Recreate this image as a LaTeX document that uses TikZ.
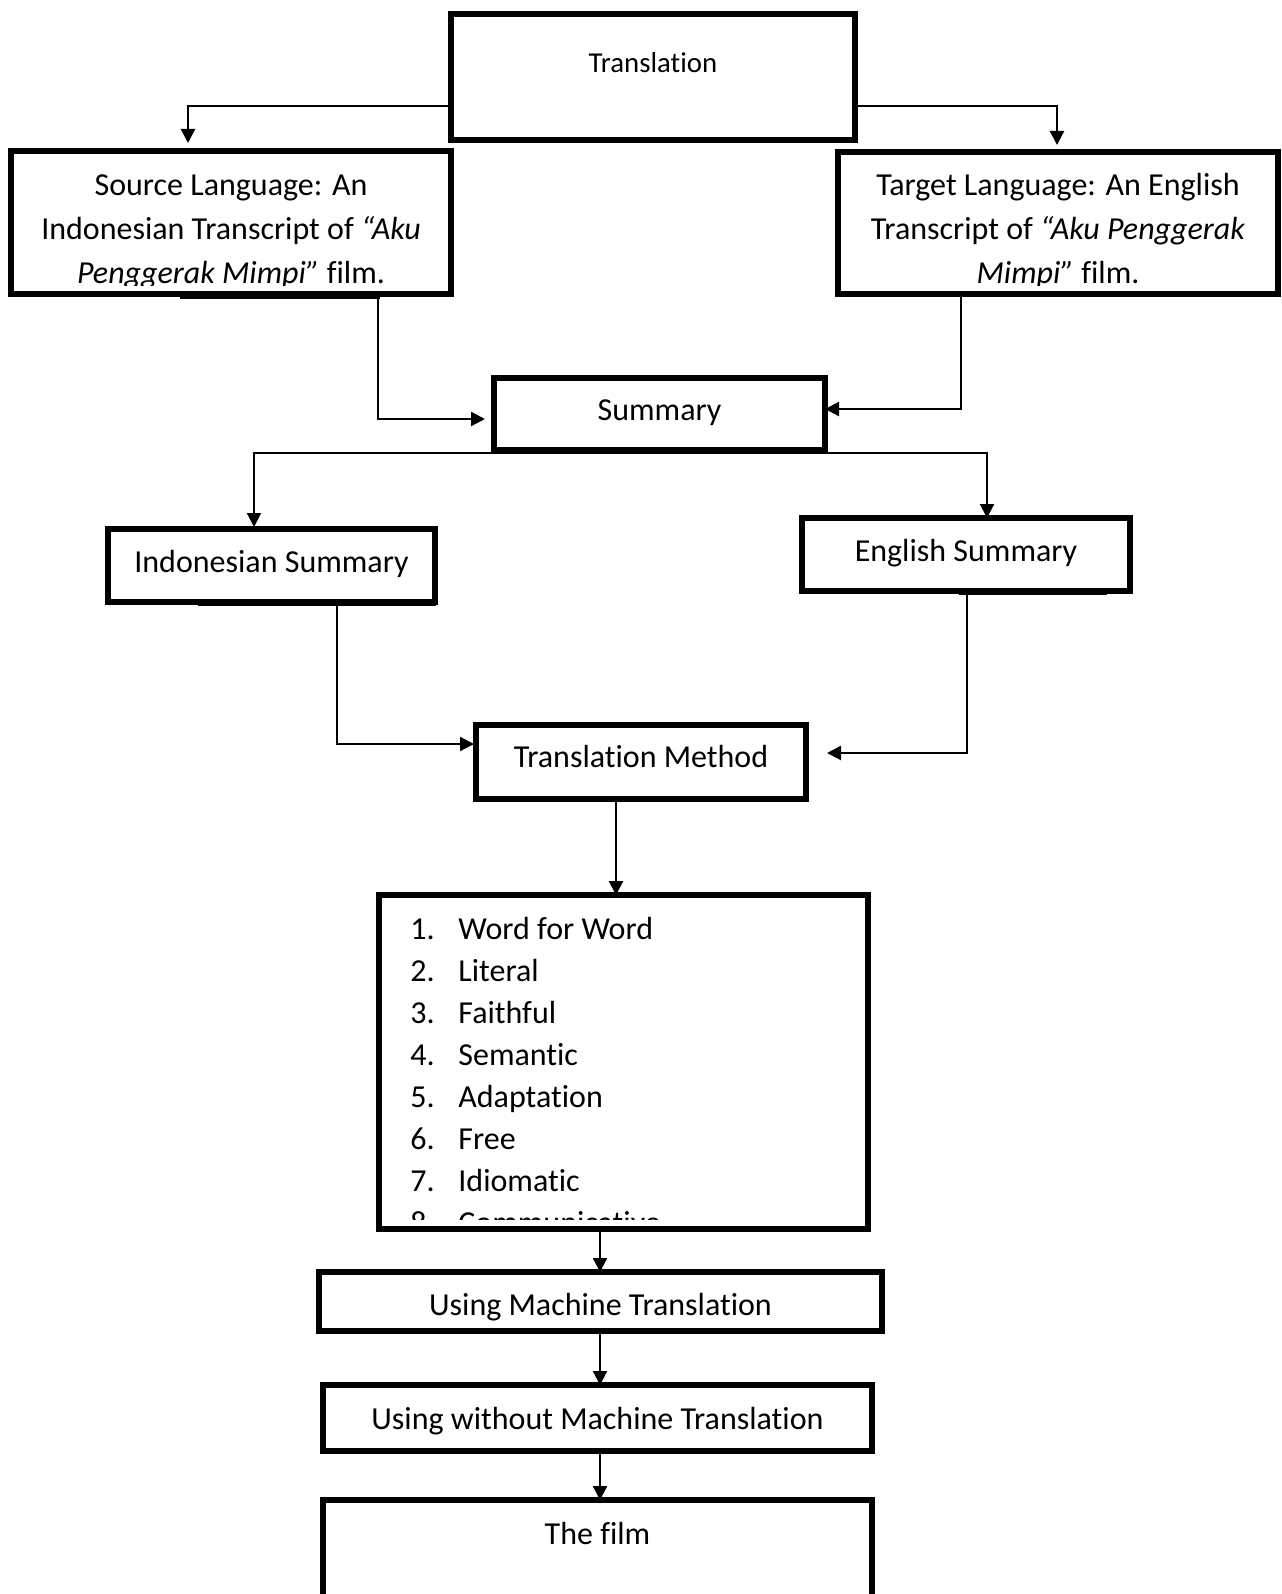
\documentclass[tikz,border=0pt]{standalone}
\usepackage{fontspec}
\setmainfont{Carlito}[Ligatures={NoCommon}]
\usetikzlibrary{arrows.meta,fit}
\begin{document}
\begin{tikzpicture}[x=0.5pt,y=-0.5pt,
  box/.style={draw,line width=2.6pt,inner sep=0pt,outer sep=0pt,rectangle},
  conn/.style={line width=1.1pt},
  arr/.style={conn,-{Triangle[length=7pt,width=7pt]}},
  txt/.style={anchor=base,inner sep=0pt,font=\fontsize{16}{22}\selectfont},
  item/.style={anchor=base west,inner sep=0pt,font=\fontsize{16}{21}\selectfont},
  seam/.style={line width=0.9pt}]
\path[use as bounding box] (0,0) rectangle (1281,1594);
\clip (0,0) rectangle (1281,1594);

% boxes
\node[box,fit={(451,14) (855,140)}] (tr) {};
\node[box,fit={(11,151) (451,294)}] (src) {};
\node[box,fit={(838,152) (1278,294)}] (tgt) {};
\node[box,fit={(494,378) (825,450)}] (sum) {};
\node[box,fit={(108,529) (435,602)}] (ind) {};
\node[box,fit={(802,518) (1130,591)}] (eng) {};
\node[box,fit={(476,725) (806,799)}] (tm) {};
\node[box,fit={(379,895) (868,1229)}] (list) {};
\node[box,fit={(319,1272) (882,1331)}] (umt) {};
\node[box,fit={(323,1385) (872,1451)}] (uwmt) {};
\node[box,fit={(323,1500) (872,1610)}] (film) {};

% seams under some boxes
\draw[seam] (180,298) -- (380,298);
\draw[seam] (959,296) -- (1094,296);
\draw[seam] (959,594) -- (1107,594);
\draw[seam] (198,605) -- (436,605);

% texts
\node[txt,font=\fontsize{14.4}{18}\selectfont] (trt) at (tr.north |- 0,73) {Translation};
\begin{scope}
\clip (14,154) rectangle (448,285);
\node[txt] (s1) at (src.north |- 0,196) {Source Language: An};
\node[txt] (s2) at (src.north |- 0,240) {Indonesian Transcript of \textit{“Aku}};
\node[txt] (s3) at (src.north |- 0,284) {\textit{Penggerak Mimpi”} film.};
\end{scope}
\begin{scope}
\clip (841,155) rectangle (1275,285);
\node[txt] (t1) at (tgt.north |- 0,196) {Target Language: An English};
\node[txt] (t2) at (tgt.north |- 0,240) {Transcript of \textit{“Aku Penggerak}};
\node[txt] (t3) at (tgt.north |- 0,284) {\textit{Mimpi”} film.};
\end{scope}
\node[txt] (sumt) at (sum.north |- 0,420) {Summary};
\node[txt] (indt) at (ind.north |- 0,572) {Indonesian Summary};
\node[txt] (engt) at (eng.north |- 0,561) {English Summary};
\node[txt] (tmt) at (tm.north |- 0,767) {Translation Method};
\begin{scope}
\clip (382,898) rectangle (866,1219);
\foreach \t [count=\i] in {Word for Word,Literal,Faithful,Semantic,Adaptation,Free,Idiomatic,Communicative}{
  \node[item] (num\i) at (410,{939+42.1*(\i-1)}) {\i.};
  \node[item] (itm\i) at (458,{939+42.1*(\i-1)}) {\t};
}
\end{scope}
\node[txt] (umtt) at (umt.north |- 0,1315) {Using Machine Translation};
\node[txt] (uwmtt) at (uwmt.north |- 0,1429) {Using without Machine Translation};
\node[txt] (filmt) at (film.north |- 0,1544) {The film};

% connectors
\draw[arr,shorten >=4pt] (tr.west |- 0,106) -| (src.north -| 188,0);
\draw[arr,shorten >=3.5pt] (tr.east |- 0,106) -| (tgt.north -| 1057,0);
\draw[arr,shorten >=4.5pt] (src.south -| 378,0) |- (sum.west |- 0,419);
\draw[arr] (tgt.south -| 961,0) |- (sum.east |- 0,409);
\draw[arr,shorten >=1pt] (sum.south |- 0,453) -| (ind.north -| 254,0);
\draw[arr] (sum.south |- 0,453) -| (eng.north -| 987,0);
\draw[arr,shorten >=1pt] (ind.south -| 337,0) |- (tm.west |- 0,744);
\draw[arr,shorten >=10.5pt] (eng.south -| 967,0) |- (tm.east |- 0,753);
\draw[arr] (tm.south -| 616,0) -- (list.north -| 616,0);
\draw[arr] (list.south -| 600,0) -- (umt.north -| 600,0);
\draw[arr] (umt.south -| 600,0) -- (uwmt.north -| 600,0);
\draw[arr] (uwmt.south -| 600,0) -- (film.north -| 600,0);
\end{tikzpicture}
\end{document}
